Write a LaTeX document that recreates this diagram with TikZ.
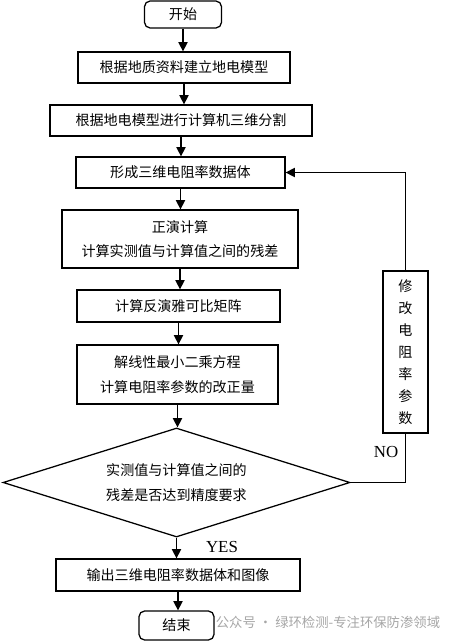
\documentclass[tikz,border=0pt]{standalone}
\usepackage{fontspec}
\setmainfont{Noto Sans CJK SC}
\newfontfamily\latinfont{Liberation Serif}
\usetikzlibrary{positioning,shapes.geometric,arrows.meta}

\begin{document}
\begin{tikzpicture}[
  stepbox/.style={draw, line width=0.9pt, minimum height=0.775cm, inner sep=1pt, align=center, font=\fontsize{10}{17.5}\selectfont},
  endbox/.style={stepbox, rounded corners=4pt},
  flow/.style={line width=0.9pt, -{Triangle[length=2.3mm,width=2.3mm]}},
  plain/.style={line width=0.9pt}
]
\useasboundingbox (0,0) rectangle (11.3,-16.05);

% Start
\node[endbox, minimum width=1.925cm, minimum height=0.675cm] (start) at (4.575,-0.3625) {开始};

% Model
\node[stepbox, minimum width=5.3cm] (model) at (4.6,-1.6875) {根据地质资料建立地电模型};
\node[stepbox, minimum width=6.55cm] (grid) at (4.525,-3.0125) {根据地电模型进行计算机三维分割};
\node[stepbox, minimum width=5.225cm] (rho) at (4.5125,-4.3125) {形成三维电阻率数据体};

% Inversion
\node[stepbox, minimum width=5.9cm, minimum height=1.45cm] (fwd) at (4.5,-5.975) {正演计算\\计算实测值与计算值之间的残差};
\node[stepbox, minimum width=5.075cm, minimum height=0.8cm] (jac) at (4.4625,-7.65) {计算反演雅可比矩阵};
\node[stepbox, minimum width=5.025cm, minimum height=1.475cm] (lsq) at (4.4375,-9.3625) {解线性最小二乘方程\\计算电阻率参数的改正量};

% Decision
\node[stepbox, shape=diamond, shape aspect=3.18, minimum width=8.675cm, minimum height=2.725cm, inner sep=0pt] (check) at (4.4125,-12.0625) {实测值与计算值之间的\\残差是否达到精度要求};
\node[stepbox, minimum width=1.125cm, minimum height=4.05cm, font=\fontsize{10}{15.6}\selectfont] (fix) at (10.1375,-8.8) {修\\改\\电\\阻\\率\\参\\数};

% Output
\node[stepbox, minimum width=6.1cm, minimum height=0.8cm] (out) at (4.45,-14.375) {输出三维电阻率数据体和图像};
\node[endbox, minimum width=1.875cm, minimum height=0.725cm] (stop) at (4.4125,-15.6375) {结束};

% Labels
\node[font=\latinfont\fontsize{12}{12}\selectfont] (no) at (9.65,-11.3) {NO};
\node[font=\latinfont\fontsize{12}{12}\selectfont] (yes) at (5.55,-13.675) {YES};
\node[text=black!35, font=\fontsize{9.5}{10}\selectfont] (mark) at (8.2,-15.55) {公众号 · 绿环检测-专注环保防渗领域};

% Arrows
\draw[flow] (start.south) -- (start.south |- model.north);
\draw[flow] (model.south) -- (model.south |- grid.north);
\draw[flow] (grid.south) -- (grid.south |- rho.north);
\draw[flow] (rho.south) -- (rho.south |- fwd.north);
\draw[flow] (fwd.south) -- (fwd.south |- jac.north);
\draw[flow] (jac.south) -- (jac.south |- lsq.north);
\draw[flow] (lsq.south) -- (lsq.south |- check.north);
\draw[flow] (check.south) -- (check.south |- out.north);
\draw[flow] (out.south) -- (out.south |- stop.north);
\draw[plain] (check.east) -| (fix.south);
\draw[flow] (fix.north) |- (rho.east);

\end{tikzpicture}
\end{document}
